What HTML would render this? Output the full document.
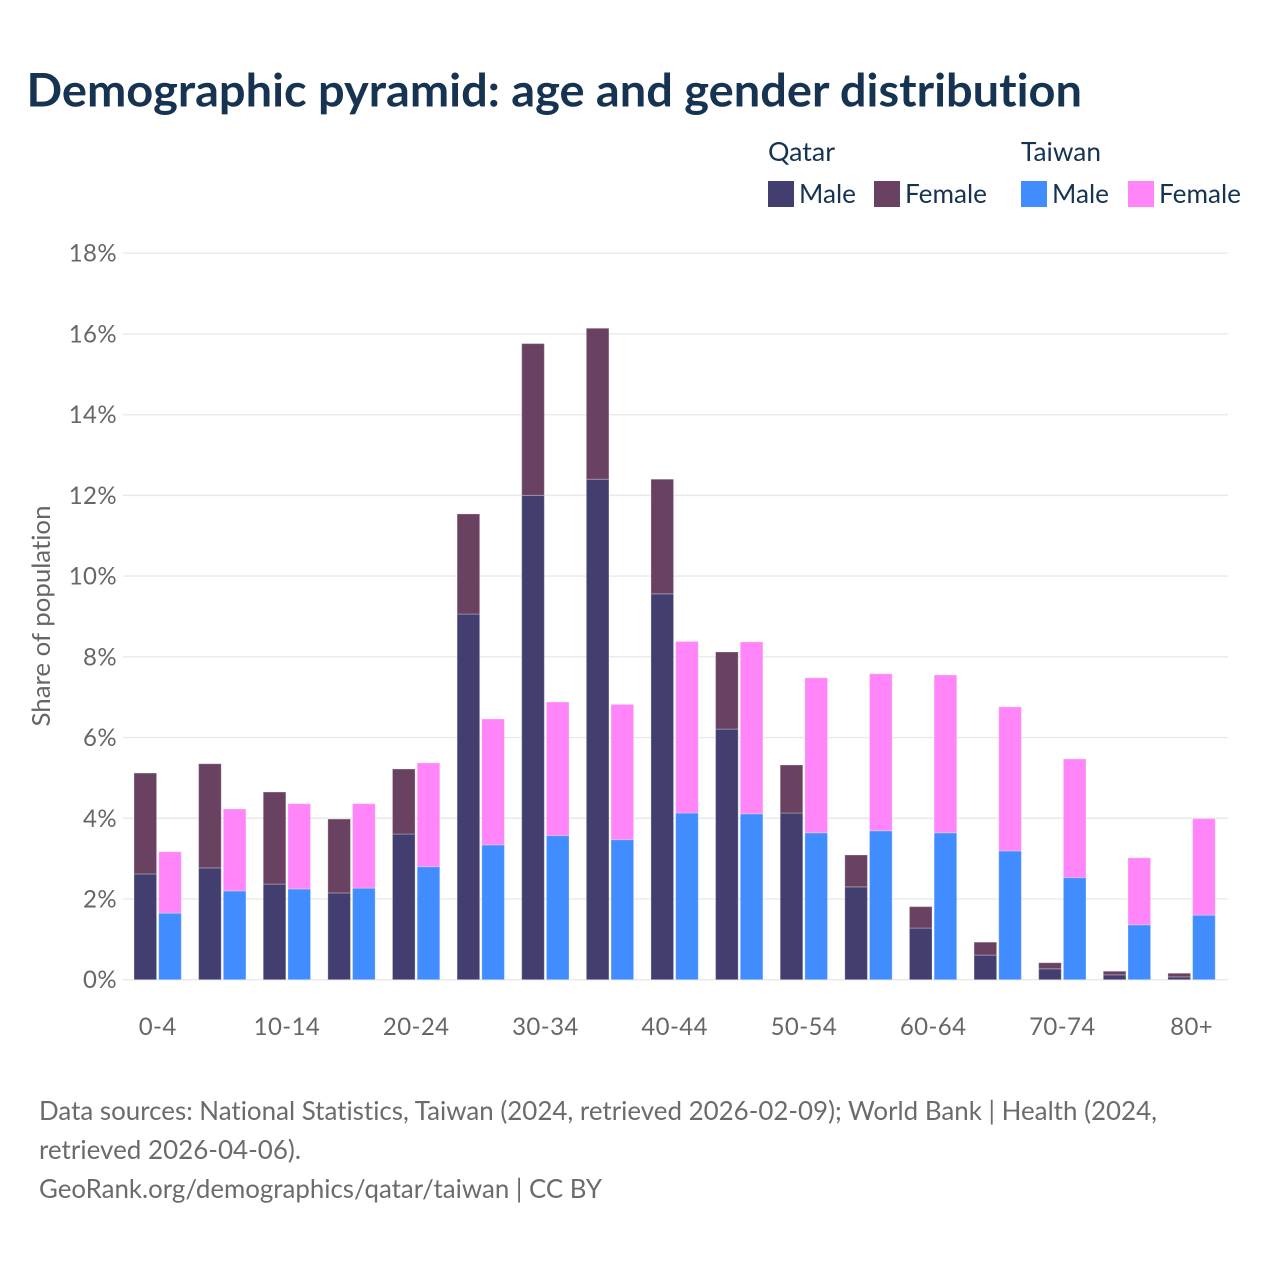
<!DOCTYPE html>
<html lang="en">
<head>
<meta charset="utf-8">
<title>Demographic pyramid: age and gender distribution</title>
<style>
html,body{margin:0;padding:0;background:#fff;width:1280px;height:1280px;overflow:hidden}
svg{display:block}
text{font-family:"Lato","Carlito","Liberation Sans",sans-serif;font-variant-ligatures:none;font-kerning:normal}
.title{font-size:46px;font-weight:700;fill:#163352}
.legend{font-size:26px;fill:#163352}
.tick{font-size:24px;fill:#666;letter-spacing:.4px}
.axis-title{font-size:25px;fill:#666}
.foot{font-size:26px;fill:#6b6b6b}
</style>
</head>
<body>
<svg id="chart" xmlns="http://www.w3.org/2000/svg" width="1280" height="1280" viewBox="0 0 1280 1280">
  <rect width="1280" height="1280" fill="#fff"/>
  <text class="title" x="26.5" y="106.3" textLength="1055.5" lengthAdjust="spacingAndGlyphs">Demographic pyramid: age and gender distribution</text>

  <g>
    <text class="legend" x="768" y="161" textLength="67" lengthAdjust="spacingAndGlyphs">Qatar</text>
    <text class="legend" x="1021" y="161" textLength="80" lengthAdjust="spacingAndGlyphs">Taiwan</text>
    <rect x="768" y="181" width="26" height="26" fill="#423f70"/>
    <text class="legend" x="799" y="203" textLength="57" lengthAdjust="spacingAndGlyphs">Male</text>
    <rect x="874" y="181" width="26" height="26" fill="#694262"/>
    <text class="legend" x="905" y="203" textLength="82" lengthAdjust="spacingAndGlyphs">Female</text>
    <rect x="1021" y="181" width="26" height="26" fill="#418cff"/>
    <text class="legend" x="1052" y="203" textLength="57" lengthAdjust="spacingAndGlyphs">Male</text>
    <rect x="1128" y="181" width="26" height="26" fill="#ff85f8"/>
    <text class="legend" x="1159" y="203" textLength="82" lengthAdjust="spacingAndGlyphs">Female</text>
  </g>

  <g id="grid"></g>
  <g id="yticks"></g>
  <text class="axis-title" transform="translate(50,616) rotate(-90)" text-anchor="middle" textLength="221" lengthAdjust="spacingAndGlyphs">Share of population</text>
  <g id="bars"></g>
  <g id="xticks"></g>

  <g>
    <text class="foot" x="39" y="1120" textLength="1118" lengthAdjust="spacingAndGlyphs">Data sources: National Statistics, Taiwan (2024, retrieved 2026-02-09); World Bank | Health (2024,</text>
    <text class="foot" x="39" y="1159" textLength="262" lengthAdjust="spacingAndGlyphs">retrieved 2026-04-06).</text>
    <text class="foot" x="39" y="1198" textLength="563" lengthAdjust="spacingAndGlyphs">GeoRank.org/demographics/qatar/taiwan | CC BY</text>
  </g>
</svg>
<script>
const categories = ["0-4","5-9","10-14","15-19","20-24","25-29","30-34","35-39","40-44","45-49","50-54","55-59","60-64","65-69","70-74","75-79","80+"];
const qatarMale = [2.62,2.77,2.37,2.15,3.61,9.06,12.0,12.4,9.56,6.21,4.13,2.3,1.28,0.61,0.27,0.12,0.07];
const qatarFemale = [2.50,2.58,2.28,1.83,1.61,2.48,3.76,3.74,2.84,1.91,1.19,0.79,0.53,0.32,0.15,0.09,0.09];
const taiwanMale = [1.65,2.2,2.25,2.27,2.8,3.34,3.57,3.47,4.13,4.11,3.64,3.69,3.64,3.19,2.53,1.36,1.6];
const taiwanFemale = [1.52,2.03,2.11,2.09,2.57,3.12,3.31,3.35,4.25,4.26,3.84,3.89,3.91,3.57,2.94,1.66,2.39];
const yTickValues = [0,2,4,6,8,10,12,14,16,18];
const xLabelStep = 2;

const NS = "http://www.w3.org/2000/svg";
const yScale = v => 979.7 - v * (979.7 - 253.2) / 18;
const groupX = i => 134 + i * 64.62;
const BAR_W = 22.6, BAR_GAP = 24.7;

function make(tag, attrs, parent) {
  const el = document.createElementNS(NS, tag);
  for (const k in attrs) el.setAttribute(k, attrs[k]);
  parent.appendChild(el);
  return el;
}

const grid = document.getElementById("grid");
const yticks = document.getElementById("yticks");
yTickValues.forEach(v => {
  const y = yScale(v);
  const line = make("line", {x1:123, x2:1228, y1:y, y2:y, stroke:"#e9e9e9", "stroke-width":1.4}, grid);
  
  
  const t = make("text", {x:117, y:y + 8.5, "text-anchor":"end", class:"tick"}, yticks);
  
  
  t.textContent = v + "%";
});

const bars = document.getElementById("bars");
function drawBar(x, base, value, color) {
  const yTop = yScale(base + value), yBot = yScale(base);
  const r = make("rect", {x:x, y:yTop, width:BAR_W, height:Math.max(0, yBot - yTop), fill:color, stroke:"rgba(255,255,255,.28)", "stroke-width":1}, bars);
  return r;
}
categories.forEach((c, i) => {
  const x0 = groupX(i), x1 = x0 + BAR_GAP;
  const a = drawBar(x0, 0, qatarMale[i], "#423f70");
  
  
  const b = drawBar(x0, qatarMale[i], qatarFemale[i], "#694262");
  
  
  const d = drawBar(x1, 0, taiwanMale[i], "#418cff");
  
  
  const e = drawBar(x1, taiwanMale[i], taiwanFemale[i], "#ff85f8");
  
  
});

const xticks = document.getElementById("xticks");
categories.forEach((c, i) => {
  if (i % xLabelStep !== 0) return;
  const t = make("text", {x:groupX(i) + 23.7, y:1035, "text-anchor":"middle", class:"tick"}, xticks);
  
  
  t.textContent = c;
});
</script>
</body>
</html>
